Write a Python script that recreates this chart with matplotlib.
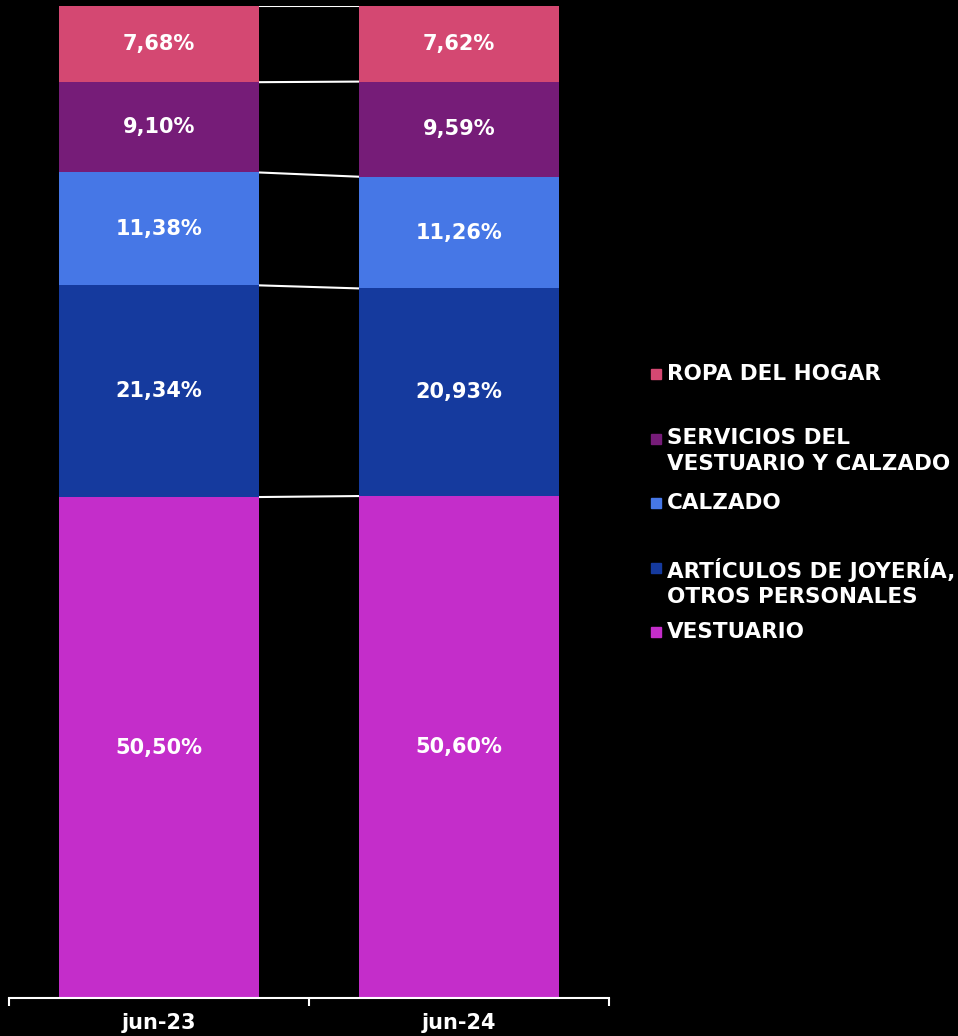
import matplotlib
matplotlib.use("Agg")
import matplotlib.pyplot as plt
from matplotlib.patches import Rectangle
import numpy as np

categories = ["jun-23", "jun-24"]
series = ["VESTUARIO", "ARTÍCULOS DE JOYERÍA,\nOTROS PERSONALES", "CALZADO",
          "SERVICIOS DEL\nVESTUARIO Y CALZADO", "ROPA DEL HOGAR"]
vestuario = [50.50, 50.60]
articulos = [21.34, 20.93]
calzado = [11.38, 11.26]
servicios = [9.10, 9.59]
ropa = [7.68, 7.62]
values = [vestuario, articulos, calzado, servicios, ropa]
colors = ["#C42DCA", "#153A9E", "#4677E6", "#761C78", "#D44872"]

FONT = "DejaVu Sans"
W, H = 958, 1036
fig = plt.figure(figsize=(W / 100, H / 100), dpi=100, facecolor="black")
ax = fig.add_axes([9 / W, (H - 998) / H, 600 / W, 992 / H])
ax.set_facecolor("black")

x = np.arange(len(categories))
bw = 0.667
bottom = np.zeros(len(categories))
tops = []
for vals, col in zip(values, colors):
    vals = np.array(vals)
    ax.bar(x, vals, bw, bottom=bottom, color=col, edgecolor="none", zorder=2)
    for xi, v, b in zip(x, vals, bottom):
        ax.text(xi, b + v / 2, f"{v:.2f}%".replace(".", ","), ha="center", va="center",
                color="white", fontsize=15, fontweight="bold", family=FONT, zorder=3)
    bottom = bottom + vals
    tops.append(bottom.copy())

# connector lines
for t in tops:
    ax.plot([x[0] + bw / 2, x[1] - bw / 2], [t[0], t[1]], color="white", lw=1.5, zorder=1)

ax.set_xlim(-0.5, 1.5)
ax.set_ylim(0, 100)
ax.set_yticks([])
for s in ["top", "left", "right"]:
    ax.spines[s].set_visible(False)
ax.spines["bottom"].set_color("white")
ax.spines["bottom"].set_linewidth(1.5)
ax.set_xticks(x)
ax.set_xticklabels(categories, color="white", fontsize=15, fontweight="bold", family=FONT)
ax.tick_params(axis="x", which="major", length=0, pad=11)
ax.set_xticks([-0.5, 0.5, 1.5], minor=True)
ax.tick_params(axis="x", which="minor", length=6, width=1.5, color="white", direction="out")

# manual legend (top entry first)
leg_top = 374
step = 64.5
for i, (lab, col) in enumerate(zip(series[::-1], colors[::-1])):
    y = leg_top + i * step
    fig.patches.append(Rectangle((651 / W, 1 - (y + 5) / H), 10 / W, 10 / H,
                                 transform=fig.transFigure, color=col, figure=fig))
    fig.text(667 / W, 1 - (y - 10) / H, lab, ha="left", va="top", color="white",
             fontsize=15.5, fontweight="bold", family=FONT, linespacing=1.32)

fig.savefig("out.png", dpi=100, facecolor="black")
